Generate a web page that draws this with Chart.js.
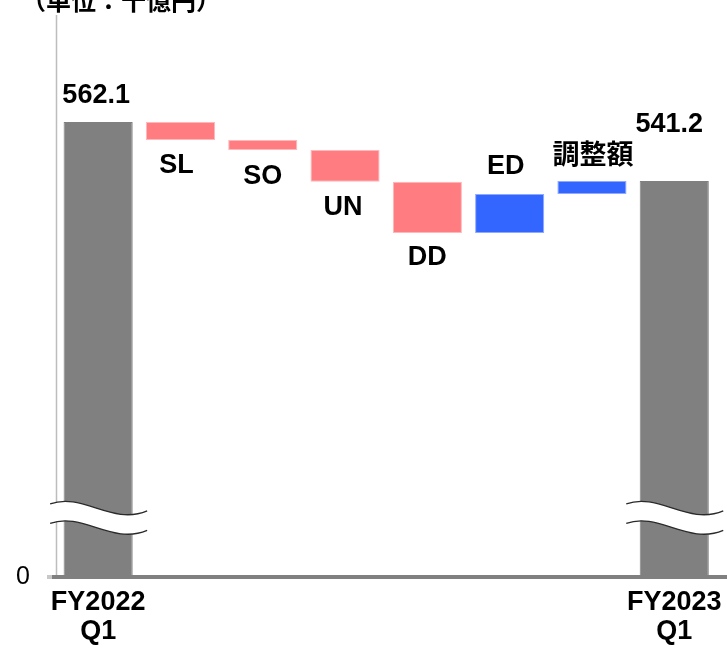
<!DOCTYPE html>
<html><head><meta charset="utf-8">
<script src="https://cdn.jsdelivr.net/npm/chart.js@4/dist/chart.umd.min.js"></script>
<style>html,body{margin:0;padding:0;background:#fff}#wrap{width:727px;height:648px}</style>
</head><body><div id="wrap"><canvas id="c" width="727" height="648"></canvas></div>
<script>
// ---- data ----
const categories = ['FY2022 Q1', 'SL', 'SO', 'UN', 'DD', 'ED', '調整額', 'FY2023 Q1'];
const startTotal = 562.1;
const deltas = [-6.4, -3.5, -11.3, -18.1, 13.8, 4.6];
const endTotal = 541.2;
const xTickLabels = [['FY2022', 'Q1'], '', '', '', '', '', '', ['FY2023', 'Q1']];
const yTickLabels = ['0'];
const unitNote = '（単位：十億円）';

// broken value axis: bottom of the plot is shown as "0"
const yMin = 400.9, yMax = 600.0, breakValue = 426.8;

// ---- build waterfall ----
const floats = [], kinds = [];
floats.push([yMin, startTotal]); kinds.push('total');
let run = startTotal;
deltas.forEach(d => { floats.push([run, +(run + d).toFixed(1)]); run = +(run + d).toFixed(1); kinds.push(d < 0 ? 'down' : 'up'); });
floats.push([yMin, endTotal]); kinds.push('total');
const totalsText = [startTotal.toFixed(1), endTotal.toFixed(1)];

const fillCol = {total: '#808080', down: '#FF7C80', up: '#3366FF'};
const edgeCol = {total: '#808080', down: '#FFB8BA', up: '#8FA9FF'};

const FONT = "'Liberation Sans', Arial, 'Noto Sans CJK JP', sans-serif";

function zeroPad(s) { s.paddingTop = 0; s.paddingBottom = 0; s.paddingLeft = 0; s.paddingRight = 0; }

const labelPlugin = {
  id: 'wfLabels',
  beforeDatasetsDraw(chart) {
    const ctx = chart.ctx, area = chart.chartArea;
    ctx.save();
    ctx.strokeStyle = '#BDBDBD'; ctx.lineWidth = 1.5;
    ctx.beginPath(); ctx.moveTo(area.left - 0.5, area.top); ctx.lineTo(area.left - 0.5, area.bottom); ctx.stroke();
    ctx.restore();
  },
  afterDatasetsDraw(chart, args, opts) {
    const ctx = chart.ctx, meta = chart.getDatasetMeta(0), ys = chart.scales.y, area = chart.chartArea;
    // axis break marks
    const yb = ys.getPixelForValue(breakValue), gap = 19.5;
    [0, meta.data.length - 1].forEach(i => {
      const x0 = meta.data[i].x - 48;
      ctx.save();
      ctx.beginPath();
      ctx.moveTo(x0, yb);
      ctx.bezierCurveTo(x0 + 32, yb - 12, x0 + 62, yb + 22, x0 + 97, yb + 7);
      ctx.lineTo(x0 + 97, yb + 7 + gap);
      ctx.bezierCurveTo(x0 + 62, yb + 22 + gap, x0 + 32, yb - 12 + gap, x0, yb + gap);
      ctx.closePath();
      ctx.fillStyle = '#ffffff';
      ctx.fill();
      ctx.strokeStyle = '#2a2a2a';
      ctx.lineWidth = 1.3;
      ctx.beginPath();
      ctx.moveTo(x0, yb);
      ctx.bezierCurveTo(x0 + 32, yb - 12, x0 + 62, yb + 22, x0 + 97, yb + 7);
      ctx.stroke();
      ctx.beginPath();
      ctx.moveTo(x0, yb + gap);
      ctx.bezierCurveTo(x0 + 32, yb - 12 + gap, x0 + 62, yb + 22 + gap, x0 + 97, yb + 7 + gap);
      ctx.stroke();
      ctx.restore();
    });
    // category axis line
    ctx.save();
    ctx.strokeStyle = '#c8c8c8'; ctx.lineWidth = 4;
    ctx.beginPath(); ctx.moveTo(area.left - 10, area.bottom); ctx.lineTo(area.left - 4, area.bottom); ctx.stroke();
    ctx.strokeStyle = '#808080';
    ctx.beginPath(); ctx.moveTo(area.left - 5, area.bottom); ctx.lineTo(chart.width, area.bottom); ctx.stroke();
    ctx.restore();
    // labels
    ctx.save();
    ctx.font = 'bold 27px ' + FONT;
    ctx.fillStyle = '#000';
    ctx.textAlign = 'center';
    ctx.textBaseline = 'middle';
    meta.data.forEach((el, i) => {
      const top = Math.min(el.y, el.base), bot = Math.max(el.y, el.base);
      const k = kinds[i];
      let text = categories[i];
      if (k === 'total') text = i === 0 ? totalsText[0] : totalsText[1];
      const lift = opts.lift[i];
      const y = k === 'down' ? bot + lift : top - lift;
      ctx.fillText(text, el.x + opts.dx[i], y);
    });
    ctx.restore();
  },
  afterDraw(chart) {
    const ctx = chart.ctx;
    ctx.save();
    ctx.font = "bold 25px 'Noto Sans CJK JP', sans-serif";
    ctx.fillStyle = '#000';
    ctx.textAlign = 'left';
    ctx.textBaseline = 'alphabetic';
    ctx.fillText(unitNote, 21, 10);
    ctx.restore();
  }
};

new Chart(document.getElementById('c'), {
  type: 'bar',
  data: {
    labels: categories,
    datasets: [{
      data: floats,
      backgroundColor: kinds.map(k => fillCol[k]),
      borderColor: kinds.map(k => edgeCol[k]),
      borderWidth: 1,
      borderSkipped: false,
      barPercentage: 0.84,
      categoryPercentage: 1
    }]
  },
  options: {
    responsive: false,
    animation: false,
    layout: {padding: {top: 15, right: 11.6, left: 0, bottom: 0}},
    plugins: {
      legend: {display: false},
      tooltip: {enabled: false},
      title: {display: false},
      wfLabels: {lift: [26, 26, 27, 26, 25, 27, 24, 56], dx: [-2, -4, 0, -2, 0, -4, 1, -5]}
    },
    scales: {
      x: {
        grid: {display: false},
        border: {display: false},
        ticks: {
          autoSkip: false, maxRotation: 0, minRotation: 0, padding: 3, color: '#000',
          font: {family: FONT, size: 27, weight: 'bold', lineHeight: 1.08},
          callback: (v, i) => xTickLabels[i]
        },
        afterFit(s) { s.height = 71; zeroPad(s); }
      },
      y: {
        min: yMin, max: yMax,
        grid: {display: false, drawTicks: false},
        border: {display: false},
        ticks: {padding: 27, color: '#000', font: {family: FONT, size: 25}, callback: (v, i) => yTickLabels[i]},
        afterBuildTicks(s) { s.ticks = [{value: yMin}]; },
        afterFit(s) { s.width = 57; zeroPad(s); }
      }
    }
  },
  plugins: [labelPlugin]
});
</script>
</body></html>
